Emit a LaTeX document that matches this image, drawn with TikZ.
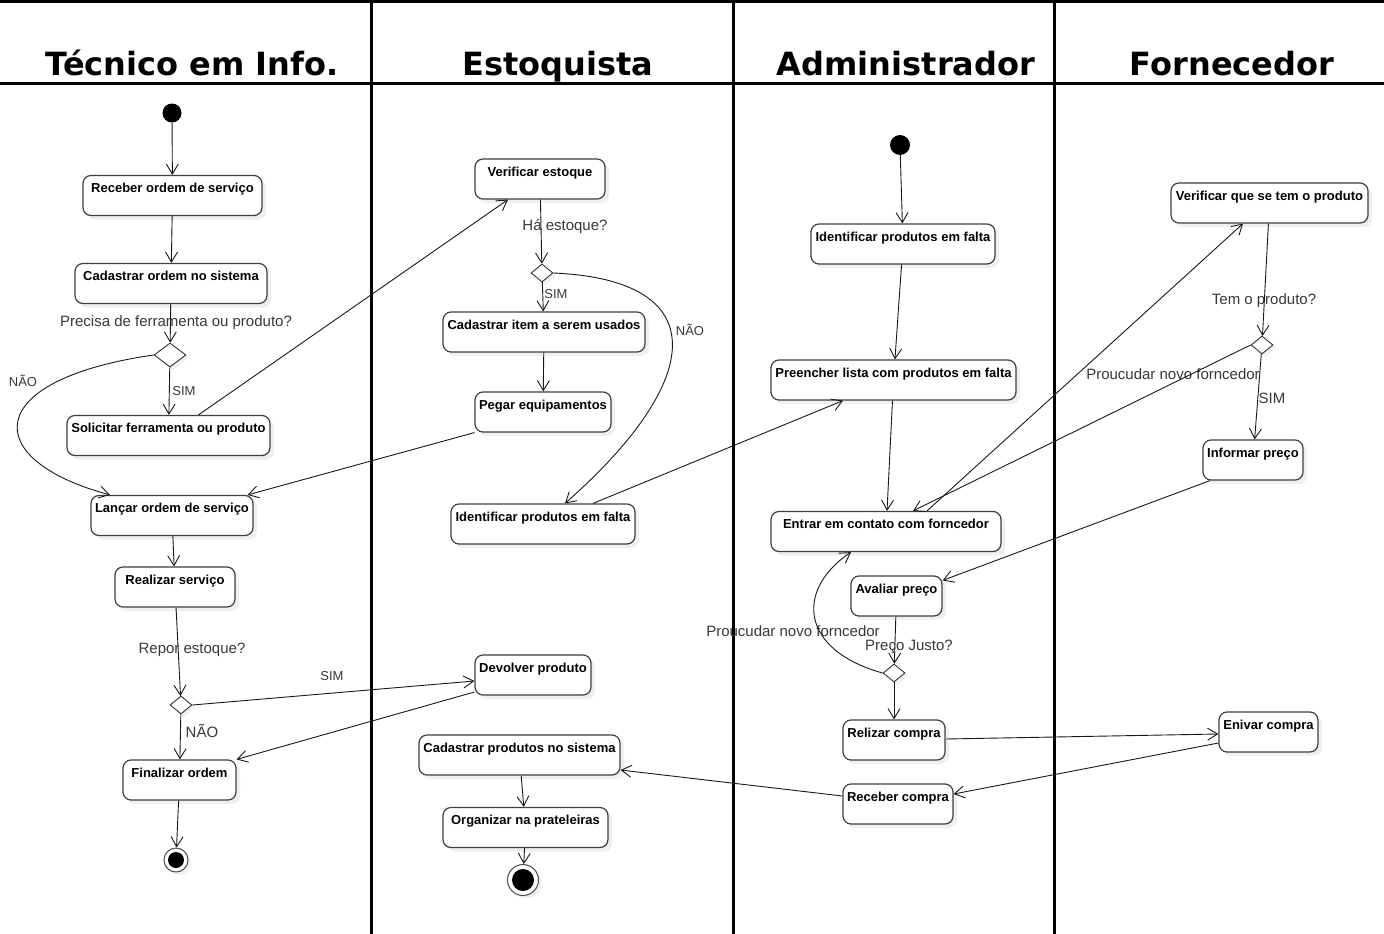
\documentclass[tikz,border=0pt]{standalone}
\usepackage{fontspec}
\setmainfont{Liberation Sans}
\newfontfamily\titlefont{DejaVu Sans}
\usetikzlibrary{arrows.meta,shapes.geometric,shadows}

\begin{document}
\begin{tikzpicture}[x=1pt, y=-1pt,
    acao/.style={draw=black!75, line width=1.2pt, rounded corners=8pt, fill=white,
      drop shadow={shadow xshift=4pt, shadow yshift=-4pt, fill=black!12},
      minimum height=40pt, inner xsep=1pt, inner ysep=3pt,
      text height=14pt, text depth=20pt, font=\fontsize{13}{15}\selectfont\bfseries},
    decisao/.style={diamond, draw=black!80, line width=0.9pt, fill=white, inner sep=0pt,
      minimum width=22pt, minimum height=18pt,
      drop shadow={shadow xshift=3pt, shadow yshift=-3pt, fill=black!12}},
    inicio/.style={circle, fill=black, minimum size=19pt, inner sep=0pt},
    fim/.style={circle, draw=black!70, fill=white, line width=1pt, inner sep=0pt,
      drop shadow={shadow xshift=3pt, shadow yshift=-3pt, fill=black!12}},
    rotulo/.style={text=black!78, font=\fontsize{15}{17}\selectfont, inner sep=0pt},
    rotpeq/.style={rotulo, font=\fontsize{13}{15}\selectfont},
    raia/.style={line width=3pt},
    fluxo/.style={-{Straight Barb[length=10pt,width=12pt]}, line width=0.9pt, black!90},
    titulo/.style={font=\titlefont\fontsize{32}{36}\selectfont\bfseries, anchor=base}
  ]
  \fill[white] (0,0) rectangle (1384,934);
  \useasboundingbox (0,0) rectangle (1384,934);

  % Swimlanes
  \draw[raia] (0,1.5) -- (1384,1.5);
  \draw[raia] (0,83) -- (1384,83);
  \draw[raia] (371,0) -- (371,934);
  \draw[raia] (733,0) -- (733,934);
  \draw[raia] (1054,0) -- (1054,934);
  \node[titulo] (t1) at (192,76) {Técnico em Info.};
  \node[titulo] (t2) at (558,76) {Estoquista};
  \node[titulo] (t3) at (906,76) {Administrador};
  \node[titulo] (t4) at (1232,76) {Fornecedor};

  % Tecnico em Info.
  \node[inicio] (s1) at (172,113) {};
  \node[acao, minimum width=179pt] (rec) at (172.5,195.5) {Receber ordem de serviço};
  \node[acao, minimum width=192pt] (cad) at (171,283.5) {Cadastrar ordem no sistema};
  \node[decisao, minimum width=32pt, minimum height=24pt] (d1) at (170,355) {};
  \node[acao, minimum width=203pt] (sol) at (168.5,435.5) {Solicitar ferramenta ou produto};
  \node[acao, minimum width=162pt] (lanc) at (172,515.5) {Lançar ordem de serviço};
  \node[acao, minimum width=120pt] (real) at (175,587) {Realizar serviço};
  \node[decisao] (d2) at (181,705) {};
  \node[acao, minimum width=113pt] (fin) at (179.5,780) {Finalizar ordem};
  \node[fim, minimum size=24pt] (e1) at (176,860) {};
  \fill (e1.center) circle (8pt);

  % Estoquista
  \node[acao, minimum width=130pt] (ver) at (540,179) {Verificar estoque};
  \node[decisao] (d3) at (542,273) {};
  \node[acao, minimum width=202pt] (cadi) at (544,332) {Cadastrar item a serem usados};
  \node[acao, minimum width=136pt] (peg) at (543,412) {Pegar equipamentos};
  \node[acao, minimum width=184pt] (idf) at (543,524) {Identificar produtos em falta};
  \node[acao, minimum width=116pt] (dev) at (533,675) {Devolver produto};
  \node[acao, minimum width=201pt] (cadp) at (519.5,755) {Cadastrar produtos no sistema};
  \node[acao, minimum width=165pt] (org) at (525.5,827.5) {Organizar na prateleiras};
  \node[fim, minimum size=31pt] (e2) at (523,880) {};
  \fill (e2.center) circle (11pt);

  % Administrador
  \node[inicio, minimum size=20pt] (s3) at (900,145) {};
  \node[acao, minimum width=184pt] (idf3) at (903,244) {Identificar produtos em falta};
  \node[acao, minimum width=245pt] (pre) at (893.5,380) {Preencher lista com produtos em falta};
  \node[acao, minimum width=230pt] (ent) at (886,531.5) {Entrar em contato com forncedor};
  \node[acao, minimum width=91pt] (ava) at (896.5,596) {Avaliar preço};
  \node[decisao] (d4) at (894,673) {};
  \node[acao, minimum width=102pt] (rel) at (894,740) {Relizar compra};
  \node[acao, minimum width=110pt] (recc) at (898,804) {Receber compra};

  % Fornecedor
  \node[acao, minimum width=197pt] (vq) at (1269.5,203) {Verificar que se tem o produto};
  \node[decisao] (d5) at (1262,345) {};
  \node[acao, minimum width=100pt] (inf) at (1253,460) {Informar preço};
  \node[acao, minimum width=99pt] (env) at (1268.5,732) {Enivar compra};

  % Guard texts
  \node[rotulo] (q1) at (176,323) {Precisa de ferramenta ou produto?};
  \node[rotpeq] (n1) at (23,381) {NÃO};
  \node[rotpeq] (y1) at (184,391) {SIM};
  \node[rotulo] (q2) at (192,650) {Repor estoque?};
  \node[rotpeq] (y2) at (332,676) {SIM};
  \node[rotulo] (n2) at (202,731) {NÃO};
  \node[rotulo] (q3) at (565,227) {Há estoque?};
  \node[rotpeq] (y3) at (556,294) {SIM};
  \node[rotpeq] (n3) at (690,330) {NÃO};
  \node[rotulo] (p1) at (793,631) {Proucudar novo forncedor};
  \node[rotulo] (q4) at (909,647) {Preço Justo?};
  \node[rotulo] (q5) at (1264,301) {Tem o produto?};
  \node[rotulo] (p2) at (1173,374) {Proucudar novo forncedor};
  \node[rotulo] (y5) at (1272,398) {SIM};

  % Flows
  \draw[fluxo] (s1) -- (rec);
  \draw[fluxo] (rec) -- (cad);
  \draw[fluxo] (cad) -- (d1);
  \draw[fluxo] (d1) -- (sol);
  \draw[fluxo] (d1.west) .. controls (-20,380) and (-20,460) .. ([xshift=-62pt]lanc.north);
  \draw[fluxo] ([xshift=30pt]sol.north) -- ([xshift=-32pt]ver.south);
  \draw[fluxo] (peg.south west) -- ([xshift=-6pt]lanc.north east);
  \draw[fluxo] (lanc) -- (real);
  \draw[fluxo] (real) -- (d2);
  \draw[fluxo] (d2) -- (fin);
  \draw[fluxo] (d2.east) -- ([yshift=-6pt]dev.west);
  \draw[fluxo] ([yshift=-17pt]dev.west) -- (fin.north east);
  \draw[fluxo] (fin) -- (e1);

  \draw[fluxo] (ver) -- (d3);
  \draw[fluxo] (d3) -- (cadi);
  \draw[fluxo] (d3.east) .. controls (715,280) and (705,380) .. ([xshift=22pt]idf.north);
  \draw[fluxo] (cadi) -- (peg);
  \draw[fluxo] ([xshift=50pt]idf.north) -- ([xshift=-50.5pt]pre.south);
  \draw[fluxo] (cadp) -- (org);
  \draw[fluxo] (org) -- (e2);

  \draw[fluxo] (s3) -- (idf3);
  \draw[fluxo] (idf3) -- (pre);
  \draw[fluxo] (pre) -- (ent);
  \draw[fluxo] ([xshift=41pt]ent.north) -- ([xshift=-26.5pt]vq.south);
  \draw[fluxo] (d5.west) -- ([xshift=27pt]ent.north);
  \draw[fluxo] (vq) -- (d5);
  \draw[fluxo] (d5) -- (inf);
  \draw[fluxo] ([xshift=-43pt]inf.south) -- ([yshift=-5pt]ava.north east);
  \draw[fluxo] (ava) -- (d4);
  \draw[fluxo] (d4.west) .. controls (800,650) and (795,590) .. ([xshift=-35pt]ent.south);
  \draw[fluxo] (d4) -- (rel);
  \draw[fluxo] ([yshift=1pt]rel.east) -- ([yshift=-2pt]env.west);
  \draw[fluxo] ([yshift=-11pt]env.west) -- ([yshift=10pt]recc.east);
  \draw[fluxo] ([yshift=8pt]recc.west) -- ([yshift=-15pt]cadp.east);
\end{tikzpicture}
\end{document}
